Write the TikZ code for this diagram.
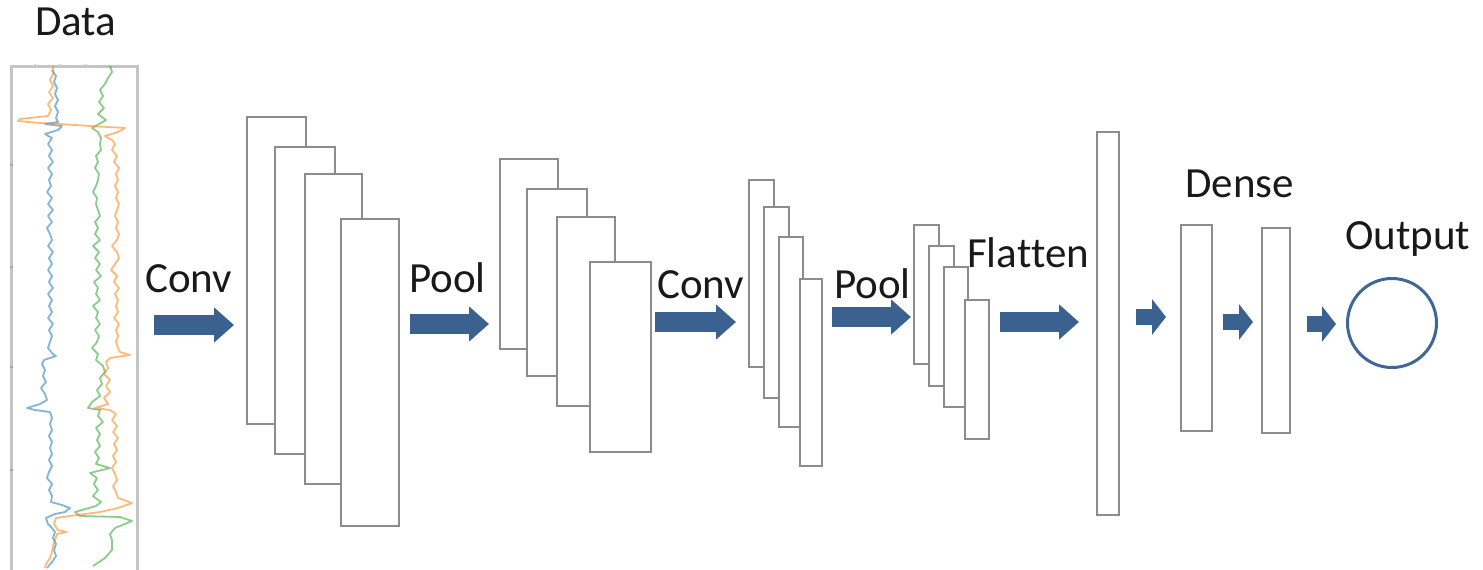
\documentclass[tikz,border=0pt]{standalone}
\usepackage{fontspec}
\setmainfont[Ligatures=NoCommon]{Carlito}
\usetikzlibrary{arrows.meta,fit}

\definecolor{framegray}{HTML}{8C8C8C}
\definecolor{axisgray}{HTML}{C4C4C4}
\definecolor{arrowblue}{HTML}{3A6190}
\definecolor{outblue}{HTML}{3F6796}
\definecolor{sigblue}{HTML}{1F77B4}
\definecolor{siggreen}{HTML}{2CA02C}
\definecolor{sigorange}{HTML}{FF7F0E}

\tikzset{
  fmap/.style={draw=framegray, line width=2.6pt, fill=white, inner sep=0pt, rectangle},
  lbl/.style={anchor=base west, inner sep=0pt, text=black!90, font=\fontsize{43}{50}\selectfont},
  blockarrow/.style={draw=arrowblue, line width=20pt, -{Triangle[length=20pt,width=34pt]}},
  smallarrow/.style={draw=arrowblue, line width=16pt, -{Triangle[length=14pt,width=35pt]}},
  outnode/.style={circle, draw=outblue, line width=3pt, fill=white, minimum size=89pt, inner sep=0pt},
  signal/.style={line width=1.8pt, opacity=0.55, line join=round},
}

\begin{document}
\begin{tikzpicture}[x=1pt,y=-1pt]
\useasboundingbox (0,0) rectangle (1483,570);

% ---- input signal panel ----
\node[lbl] (data) at (35,35) {Data};
\draw[axisgray, line width=3pt] (11,570) -- (11,66) -- (137,66) -- (137,570);
\foreach \ty in {165,267,367,470} \draw[gray!70, line width=2pt] (10,\ty) -- (13,\ty);
\foreach \tx in {35,60,86} \draw[axisgray!80, line width=2pt] (\tx,64) -- (\tx,66);

\draw[signal, sigblue] plot coordinates {
(52,70) (56,76) (54,82) (57,88) (55,94) (58,100) (55,106) (58,112) (56,118) (58,122) (45,124) (62,126) (58,130) (45,134) (52,138) (48,144) (52,150) (49,156) (53,162) (48,168) (52,174) (49,180) (51,186) (47,192) (52,198) (48,204) (53,210) (48,216) (52,222) (47,228) (50,234) (52,240) (48,246) (53,252) (49,258) (52,264) (48,270) (52,276) (49,282) (53,288) (48,294) (52,300) (49,306) (52,312) (48,318) (53,324) (49,330) (52,336) (50,342) (48,348) (53,354) (56,356) (44,360) (42,364) (45,370) (43,376) (46,382) (41,388) (45,394) (47,400) (40,404) (27,408) (35,410) (50,412) (52,418) (50,424) (52,430) (49,436) (52,442) (50,448) (52,454) (49,460) (52,466) (49,472) (47,478) (52,484) (49,490) (52,496) (51,502) (62,505) (70,508) (65,512) (55,514) (46,518) (48,524) (52,528) (55,532) (53,538) (56,544) (54,550) (56,556) (52,562) (47,568)};

\draw[signal, siggreen] plot coordinates {
(110,66) (112,72) (108,78) (105,84) (100,90) (103,96) (99,102) (104,108) (98,114) (106,120) (99,124) (92,128) (98,132) (101,138) (100,144) (101,150) (96,156) (98,162) (95,168) (99,174) (98,180) (96,186) (93,192) (97,198) (96,204) (98,210) (100,216) (95,222) (98,228) (95,234) (100,240) (93,246) (99,252) (95,258) (100,264) (96,270) (101,276) (94,282) (98,288) (96,294) (100,300) (93,306) (98,312) (96,318) (100,324) (95,330) (99,336) (97,342) (92,348) (98,354) (96,360) (103,366) (105,372) (100,378) (102,384) (97,390) (100,396) (92,402) (88,408) (100,410) (98,416) (103,422) (96,428) (100,434) (97,440) (100,446) (95,452) (99,458) (96,464) (110,468) (90,473) (97,478) (94,484) (98,490) (93,496) (101,502) (96,506) (75,512) (80,516) (120,517) (132,521) (115,528) (110,534) (112,540) (112,550) (105,558) (93,566)};

\draw[signal, sigorange] plot coordinates {
(53,66) (53,74) (50,80) (53,86) (49,92) (53,98) (48,104) (51,110) (48,116) (20,119) (18,121) (40,123) (60,124) (90,126) (125,128) (118,132) (105,136) (112,140) (115,144) (112,150) (117,156) (114,162) (119,168) (116,174) (118,180) (115,186) (118,192) (116,198) (119,204) (117,210) (115,216) (118,222) (116,228) (119,234) (117,240) (112,246) (117,252) (119,258) (115,264) (111,270) (117,276) (114,282) (119,288) (115,294) (118,300) (116,306) (118,312) (114,318) (119,324) (116,330) (118,336) (116,342) (118,348) (120,352) (130,355) (110,358) (106,362) (108,368) (104,374) (110,380) (106,386) (110,392) (104,398) (108,404) (95,408) (110,410) (116,414) (112,420) (117,426) (113,432) (118,438) (114,444) (117,450) (113,456) (116,462) (112,468) (115,474) (117,480) (113,486) (116,492) (118,498) (132,503) (118,508) (100,512) (70,516) (56,518) (54,524) (58,530) (67,532) (57,534) (55,540) (53,546) (52,552) (50,558) (46,564) (45,568)};

% ---- first convolution ----
\node[lbl] (conv1) at (145,292) {Conv};
\coordinate (a1s) at (154,325); \coordinate (a1e) at (234,325);
\draw[blockarrow] (a1s) -- (a1e);
\node[fmap, fit={(247,117) (306,424)}] (c1a) {};
\node[fmap, fit={(275,147) (335,454)}] (c1b) {};
\node[fmap, fit={(305,174) (362,484)}] (c1c) {};
\node[fmap, fit={(341,219) (399,526)}] (c1d) {};

% ---- first pooling ----
\node[lbl] (pool1) at (409,292.5) {Pool};
\coordinate (a2s) at (410,324); \coordinate (a2e) at (489,324);
\draw[blockarrow] (a2s) -- (a2e);
\node[fmap, fit={(500,159) (558,349)}] (p1a) {};
\node[fmap, fit={(527,189) (587,376)}] (p1b) {};
\node[fmap, fit={(557,217) (615,406)}] (p1c) {};
\node[fmap, fit={(590,262) (651,452)}] (p1d) {};

% ---- second convolution ----
\node[lbl] (conv2) at (657,298) {Conv};
\coordinate (a3s) at (655,322); \coordinate (a3e) at (736,322);
\draw[blockarrow] (a3s) -- (a3e);
\node[fmap, fit={(749,180) (774,367)}] (c2a) {};
\node[fmap, fit={(764,207) (789,398)}] (c2b) {};
\node[fmap, fit={(779,237) (803,427)}] (c2c) {};
\node[fmap, fit={(800,279) (822,466)}] (c2d) {};

% ---- second pooling ----
\node[lbl] (pool2) at (834,298) {Pool};
\coordinate (a4s) at (832,317); \coordinate (a4e) at (911,317);
\draw[blockarrow] (a4s) -- (a4e);
\node[fmap, fit={(914,225) (939,364)}] (p2a) {};
\node[fmap, fit={(929,246) (954,386)}] (p2b) {};
\node[fmap, fit={(944,267) (968,407)}] (p2c) {};
\node[fmap, fit={(965,300) (989,439)}] (p2d) {};

% ---- flatten ----
\node[lbl] (flat) at (967,267) {Flat\kern0ptten};
\coordinate (a5s) at (1000,322); \coordinate (a5e) at (1079,322);
\draw[blockarrow] (a5s) -- (a5e);
\node[fmap, fit={(1097,132) (1119,515)}] (flatvec) {};

% ---- dense layers ----
\node[lbl] (dense) at (1185,197) {Dense};
\coordinate (a6s) at (1136,317); \coordinate (a6e) at (1166,317);
\draw[smallarrow] (a6s) -- (a6e);
\node[fmap, fit={(1181,225) (1212,431)}] (d1) {};
\coordinate (a7s) at (1223,322); \coordinate (a7e) at (1253,322);
\draw[smallarrow] (a7s) -- (a7e);
\node[fmap, fit={(1262,228) (1290,433)}] (d2) {};

% ---- output ----
\node[lbl] (outlbl) at (1345,249) {Output};
\coordinate (a8s) at (1307,324); \coordinate (a8e) at (1336,324);
\draw[smallarrow] (a8s) -- (a8e);
\node[outnode] (out) at (1392,323) {};
\end{tikzpicture}
\end{document}
